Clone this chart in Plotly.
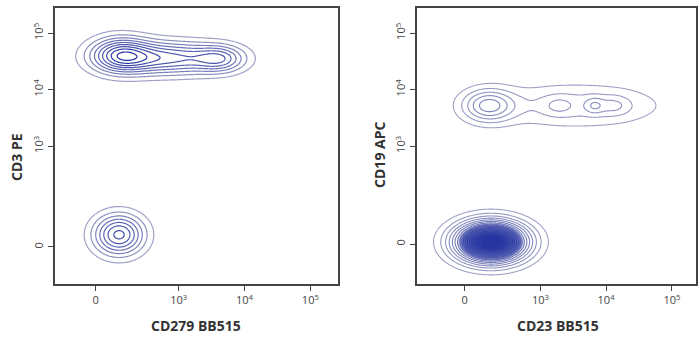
import numpy as np
import plotly.graph_objects as go

# ---------------- data ----------------
tick_values = [0, 1e3, 1e4, 1e5]
tick_labels = ["0", "10<sup>3</sup>", "10<sup>4</sup>", "10<sup>5</sup>"]

# biexponential (arcsinh) cofactors of each channel
cofactor_cd279 = 110.0
cofactor_cd3 = 32.7
cofactor_cd23 = 142.0
cofactor_cd19 = 36.9

# Panel 1: CD279 BB515 vs CD3 PE - populations (centres in fluorescence units,
# spreads in decades of the display scale, relative weights)
p1_names = ["CD3+ PD-1-", "CD3+ PD-1 ridge", "CD3+ PD-1+", "CD3-"]
p1_cd279 = [105, 700, 4400, 100]
p1_cd3 = [41000, 36000, 35000, 17]
p1_sx = [0.31, 0.60, 0.25, 0.265]
p1_sy = [0.215, 0.20, 0.16, 0.25]
p1_w = [0.60, 0.58, 0.36, 0.68]

# Panel 2: CD23 BB515 vs CD19 APC
p2_names = ["CD19+ CD23-", "CD19+ ridge", "CD19+ CD23 mid", "CD19+ CD23+ a",
            "CD19+ CD23+ b", "CD19-"]
p2_cd23 = [130, 3550, 1870, 6600, 13500, 150]
p2_cd19 = [5200, 5200, 5200, 5200, 5200, 3]
p2_sx = [0.27, 0.90, 0.16, 0.10, 0.17, 0.36]
p2_sy = [0.20, 0.27, 0.12, 0.10, 0.12, 0.24]
p2_w = [0.26, 0.13, 0.06, 0.09, 0.075, 1.0]

LN10 = np.log(10)


def biex(v, c):
    return np.arcsinh(np.asarray(v, dtype=float) / c) / LN10


def density(gx, gy, cx, cy, sx, sy, w):
    X, Y = np.meshgrid(gx, gy)
    Z = np.zeros_like(X)
    for mx, my, a, b, k in zip(cx, cy, sx, sy, w):
        Z += k * np.exp(-0.5 * ((X - mx) / a) ** 2 - 0.5 * ((Y - my) / b) ** 2)
    return Z


W, H = 698, 337
p1_left, p1_right = 55, 339
p2_left, p2_right = 418, 698
top_px, bot_px = 8, 284

x1_range = [-0.62, 3.68]
y1_range = [-0.655, 4.23]
x2_range = [-0.727, 3.515]
y2_range = [-0.708, 4.177]

gx1 = np.linspace(*x1_range, 300)
gy1 = np.linspace(*y1_range, 300)
Z1 = density(gx1, gy1, biex(p1_cd279, cofactor_cd279), biex(p1_cd3, cofactor_cd3),
             p1_sx, p1_sy, p1_w)
gx2 = np.linspace(*x2_range, 300)
gy2 = np.linspace(*y2_range, 300)
Z2 = density(gx2, gy2, biex(p2_cd23, cofactor_cd23), biex(p2_cd19, cofactor_cd19),
             p2_sx, p2_sy, p2_w)

line_scale = [[0, "#9fa2c6"], [0.35, "#6c74b7"], [1, "#2232a0"]]
core_scale = [[0, "rgba(55,70,172,0)"], [0.2, "rgba(55,70,172,0)"],
              [0.33, "rgba(55,70,172,0.45)"], [0.55, "rgba(48,62,168,0.75)"],
              [1, "rgba(40,55,160,0.88)"]]

fig = go.Figure()
fig.add_trace(go.Contour(
    x=gx2, y=gy2, z=Z2, xaxis="x2", yaxis="y2",
    contours=dict(coloring="fill", start=0.2, end=Z2.max(), size=0.02),
    line=dict(width=0), colorscale=core_scale, zmin=0, zmax=Z2.max(),
    showscale=False, hoverinfo="skip"))
s1 = 0.093
fig.add_trace(go.Contour(
    x=gx1, y=gy1, z=Z1, xaxis="x", yaxis="y",
    contours=dict(coloring="lines", start=s1, end=Z1.max(), size=s1),
    line=dict(width=1.2, smoothing=1), colorscale=line_scale,
    zmin=s1, zmax=Z1.max(), showscale=False, hoverinfo="skip"))
s2 = 0.053
fig.add_trace(go.Contour(
    x=gx2, y=gy2, z=Z2, xaxis="x2", yaxis="y2",
    contours=dict(coloring="lines", start=s2, end=Z2.max(), size=s2),
    line=dict(width=1.1, smoothing=1), colorscale=line_scale,
    zmin=s2, zmax=Z2.max(), showscale=False, hoverinfo="skip"))

axis_common = dict(showgrid=False, zeroline=False, showline=True, linecolor="#444",
                   linewidth=2, mirror=True, ticks="outside", ticklen=5, tickwidth=1,
                   tickcolor="#444", tickfont=dict(family="Open Sans", size=11, color="#444"))
ydom = [(H - bot_px) / H, (H - top_px) / H]
fig.update_layout(
    width=W, height=H, margin=dict(l=0, r=0, t=0, b=0),
    paper_bgcolor="white", plot_bgcolor="white", showlegend=False,
    xaxis=dict(domain=[p1_left / W, p1_right / W], range=x1_range,
               tickvals=biex(tick_values, cofactor_cd279), ticktext=tick_labels,
               anchor="y", **axis_common),
    yaxis=dict(domain=ydom, range=y1_range,
               tickvals=biex(tick_values, cofactor_cd3), ticktext=tick_labels,
               tickangle=-90, anchor="x", **axis_common),
    xaxis2=dict(domain=[p2_left / W, p2_right / W], range=x2_range,
                tickvals=biex(tick_values, cofactor_cd23), ticktext=tick_labels,
                anchor="y2", **axis_common),
    yaxis2=dict(domain=ydom, range=y2_range,
                tickvals=biex(tick_values, cofactor_cd19), ticktext=tick_labels,
                tickangle=-90, anchor="x2", **axis_common),
)

title_font = dict(family="Open Sans", size=14, color="#333")
ann = [
    ("CD279 BB515", 197, 325, 0),
    ("CD3 PE", 16, 157, -90),
    ("CD23 BB515", 560, 325, 0),
    ("CD19 APC", 380, 155, -90),
]
for text, px, py, ang in ann:
    fig.add_annotation(text="<b>%s</b>" % text, x=px / W, y=(H - py) / H,
                       xref="paper", yref="paper", showarrow=False,
                       xanchor="center", yanchor="middle", textangle=ang, font=title_font)

fig.write_html("out.html", config={"displayModeBar": False},
               post_script="document.body.style.margin='0';document.body.style.overflow='hidden';")
